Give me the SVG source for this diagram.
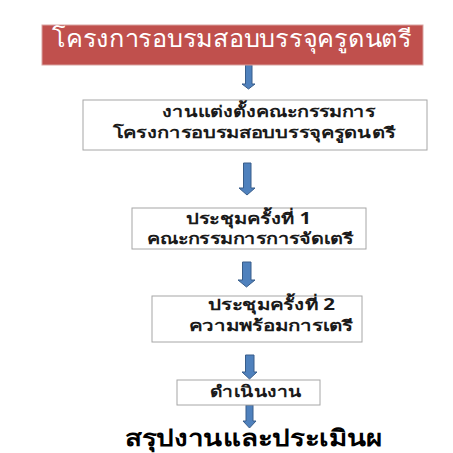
<svg xmlns="http://www.w3.org/2000/svg" width="453" height="453" viewBox="0 0 453 453">
<style>
.box{fill:#ffffff;stroke:#a6a6a6;stroke-width:1}
.t{font-family:"Noto Sans","DejaVu Sans",sans-serif;font-weight:bold;fill:#1a1a1a;font-size:15.5px}
.arrow{fill:#4f81bd;stroke:#385d8a;stroke-width:1}
</style>
<rect width="453" height="453" fill="#ffffff"/>
<g id="connectors">
<path class="arrow" d="M245.5,65 H252 V84 H255 L248.5,89 L242,84 H245.5 Z"/>
<path class="arrow" d="M243.5,163 H251 V188 H255 L247,195 L239,188 H243.5 Z"/>
<path class="arrow" d="M242.5,262 H251 V280 H255 L246.5,287 L238,280 H242.5 Z"/>
<path class="arrow" d="M245.5,355 H254 V372 H257 L249.5,379 L242,372 H245.5 Z"/>
<path class="arrow" d="M246,405 H253 V421 H256 L249.5,428 L243,421 H246 Z"/>
</g>
<g id="node1">
<rect x="42" y="25" width="381" height="40" fill="#c0504d" stroke="#d9a3a1" stroke-width="1"/>
<text class="t" x="52" y="47" style="font-size:24px;font-weight:normal;fill:#ffffff" textLength="360" lengthAdjust="spacingAndGlyphs">โครงการอบรมสอบบรรจุครูดนตรี</text>
</g>
<g id="node2">
<rect class="box" x="83" y="100" width="344" height="50"/>
<text class="t" x="162" y="117" textLength="213" lengthAdjust="spacingAndGlyphs">งานแต่งตั้งคณะกรรมการ</text>
<text class="t" x="113" y="138" textLength="282" lengthAdjust="spacingAndGlyphs">โครงการอบรมสอบบรรจุครูดนตรี</text>
</g>
<g id="node3">
<rect class="box" x="132" y="208" width="234" height="41"/>
<text class="t" x="186" y="224" textLength="125" lengthAdjust="spacingAndGlyphs">ประชุมครั้งที่ 1</text>
<text class="t" x="147" y="244" textLength="206" lengthAdjust="spacingAndGlyphs">คณะกรรมการการจัดเตรี</text>
</g>
<g id="node4">
<rect class="box" x="152" y="296" width="210" height="46"/>
<text class="t" x="208" y="310" textLength="127" lengthAdjust="spacingAndGlyphs">ประชุมครั้งที่ 2</text>
<text class="t" x="189" y="331" textLength="164" lengthAdjust="spacingAndGlyphs">ความพร้อมการเตรี</text>
</g>
<g id="node5">
<rect class="box" x="177" y="380" width="143" height="25"/>
<text class="t" x="210" y="397" textLength="92" lengthAdjust="spacingAndGlyphs">ดำเนินงาน</text>
</g>
<g id="node6">
<text class="t" x="125" y="446" style="font-size:23px;fill:#000000" textLength="257" lengthAdjust="spacingAndGlyphs">สรุปงานและประเมินผ</text>
</g>
</svg>
